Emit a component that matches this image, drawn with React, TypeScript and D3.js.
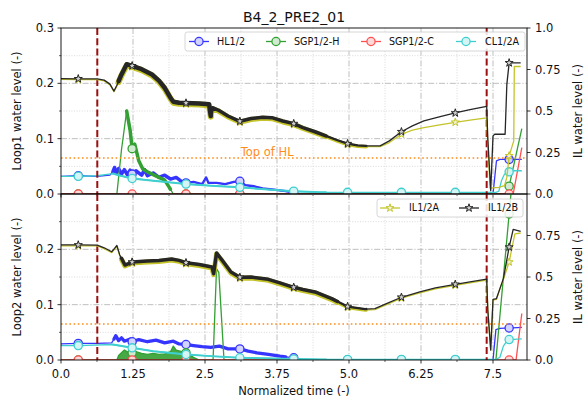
import React from "react";
import * as d3 from "d3";

type Pt = [number, number];

// ---------- axes / ticks ----------
const xTicks = [0, 1.25, 2.5, 3.75, 5.0, 6.25, 7.5];
const xTickLabels = ["0.0", "1.25", "2.5", "3.75", "5.0", "6.25", "7.5"];
const xMinor = [0.625, 1.875, 3.125, 4.375, 5.625, 6.875];
const leftTicksTop = [0, 0.1, 0.2, 0.3];
const leftLabelsTop = ["0.0", "0.1", "0.2", "0.3"];
const leftTicksBot = [0, 0.1, 0.2];
const leftLabelsBot = ["0.0", "0.1", "0.2"];
const leftMinor = [0.05, 0.15, 0.25];
const rightTicksTop = [0, 0.25, 0.5, 0.75, 1.0];
const rightLabelsTop = ["0.0", "0.25", "0.5", "0.75", "1.0"];
const rightTicksBot = [0, 0.25, 0.5, 0.75];
const rightLabelsBot = ["0.0", "0.25", "0.5", "0.75"];
const markerX = [0.3, 1.235, 2.17, 3.105, 4.04, 4.975, 5.91, 6.845, 7.78];
const eventX = [0.63, 7.39];
const topOfHL = 0.065;

// ---------- Loop1 (top) ----------
const hlTop: Pt[] = [[0,0.032],[0.3,0.033],[0.63,0.032],[0.85,0.034],[0.9,0.04],[0.93,0.048],[0.96,0.038],[1.0,0.046],[1.05,0.036],[1.1,0.044],[1.15,0.035],[1.2,0.043],[1.235,0.036],[1.3,0.042],[1.4,0.034],[1.45,0.044],[1.5,0.033],[1.6,0.038],[1.7,0.03],[1.8,0.034],[1.9,0.027],[2.0,0.03],[2.1,0.022],[2.17,0.02],[2.3,0.022],[2.45,0.018],[2.52,0.03],[2.56,0.02],[2.7,0.02],[2.85,0.018],[3.0,0.022],[3.105,0.023],[3.2,0.016],[3.35,0.014],[3.5,0.01],[3.7,0.008],[3.9,0.005],[4.04,0.003],[4.15,0],[7.5,0],[7.56,0.06],[7.62,0.0625],[8.0,0.0625]];
const sgpHTop: Pt[] = [[0,0],[0.97,0],[1.05,0.08],[1.14,0.15],[1.2,0.115],[1.235,0.082],[1.28,0.09],[1.35,0.06],[1.42,0.045],[1.5,0.04],[1.6,0.035],[1.7,0.03],[1.8,0.025],[1.88,0.012],[1.95,0],[7.75,0],[8.0,0.118]];
const sgpCTop: Pt[] = [[0,0],[7.85,0],[8.0,0.084]];
const clTop: Pt[] = [[0,0.032],[0.3,0.032],[0.63,0.033],[0.9,0.037],[1.0,0.034],[1.235,0.028],[1.6,0.024],[2.17,0.018],[2.6,0.015],[3.105,0.012],[3.6,0.008],[4.04,0.005],[4.5,0.003],[7.55,0.003],[7.6,0.005],[7.65,0.025],[7.7,0.036],[7.78,0.04],[7.82,0.042],[8.0,0.042]];
const ilATop: Pt[] = [[0,0.69],[0.3,0.689],[0.63,0.689],[0.75,0.681],[0.85,0.657],[0.92,0.616],[0.97,0.65],[1.05,0.714],[1.14,0.775],[1.235,0.766],[1.4,0.746],[1.58,0.714],[1.7,0.677],[1.8,0.634],[1.9,0.575],[1.95,0.55],[2.05,0.544],[2.17,0.542],[2.4,0.539],[2.57,0.534],[2.6,0.466],[2.63,0.514],[2.73,0.5],[2.9,0.464],[3.105,0.432],[3.3,0.449],[3.5,0.456],[3.66,0.454],[3.85,0.434],[4.04,0.418],[4.2,0.395],[4.41,0.37],[4.6,0.345],[4.8,0.319],[4.975,0.298],[5.15,0.288],[5.3,0.285],[5.54,0.285],[5.7,0.31],[5.91,0.36],[6.1,0.385],[6.3,0.4],[6.6,0.418],[6.845,0.432],[7.1,0.445],[7.39,0.458],[7.41,0.3],[7.45,0.035],[7.6,0.04],[7.7,0.05],[7.74,0.1],[7.78,0.23],[7.86,0.32],[7.87,0.768],[7.98,0.768]];
const ilBTop: Pt[] = [[0,0.695],[0.3,0.694],[0.63,0.694],[0.75,0.686],[0.85,0.662],[0.92,0.62],[0.97,0.655],[1.05,0.72],[1.14,0.782],[1.235,0.772],[1.4,0.752],[1.58,0.72],[1.7,0.683],[1.8,0.64],[1.9,0.58],[1.95,0.556],[2.05,0.55],[2.17,0.548],[2.4,0.545],[2.57,0.54],[2.6,0.47],[2.63,0.52],[2.73,0.506],[2.9,0.47],[3.105,0.438],[3.3,0.455],[3.5,0.462],[3.66,0.46],[3.85,0.44],[4.04,0.424],[4.2,0.4],[4.41,0.375],[4.6,0.35],[4.8,0.324],[4.975,0.303],[5.15,0.293],[5.3,0.29],[5.54,0.29],[5.7,0.32],[5.91,0.375],[6.1,0.41],[6.3,0.44],[6.6,0.468],[6.845,0.488],[7.1,0.508],[7.39,0.528],[7.41,0.33],[7.46,0.02],[7.5,0.35],[7.53,0.36],[7.71,0.36],[7.74,0.66],[7.78,0.79],[7.98,0.79]];

// ---------- Loop2 (bottom) ----------
const hlBot: Pt[] = [[0,0.029],[0.3,0.03],[0.63,0.03],[0.88,0.031],[0.92,0.038],[0.95,0.044],[1.0,0.035],[1.05,0.04],[1.1,0.034],[1.2,0.038],[1.235,0.033],[1.35,0.037],[1.5,0.033],[1.65,0.036],[1.8,0.031],[1.95,0.034],[2.05,0.029],[2.17,0.028],[2.3,0.026],[2.45,0.024],[2.6,0.023],[2.75,0.025],[2.9,0.02],[3.105,0.02],[3.25,0.016],[3.4,0.013],[3.6,0.01],[3.8,0.007],[4.04,0.004],[4.2,0],[7.5,0],[7.55,0.055],[7.62,0.057],[8.0,0.059]];
const sgpHBot: Pt[] = [[0,0],[0.97,0],[1.0,0.008],[1.1,0.018],[1.2,0.012],[1.3,0.015],[1.4,0.012],[1.5,0.01],[1.6,0.012],[1.7,0.01],[1.8,0.011],[1.9,0.015],[1.95,0.025],[2.0,0.018],[2.1,0.015],[2.2,0.012],[2.3,0.005],[2.4,0],[2.64,0],[2.7,0.165],[2.74,0.158],[2.83,0],[7.55,0],[7.82,0.31]];
const sgpCBot: Pt[] = [[0,0],[7.9,0],[8.0,0.084]];
const clBot: Pt[] = [[0,0.026],[0.3,0.026],[0.9,0.028],[1.235,0.022],[1.6,0.016],[2.17,0.01],[2.6,0.007],[3.105,0.004],[4.04,0.002],[4.5,0.001],[7.55,0.001],[7.62,0.005],[7.68,0.025],[7.74,0.034],[7.78,0.037],[8.0,0.038]];
const ilABot: Pt[] = [[0,0.688],[0.3,0.688],[0.63,0.687],[0.75,0.671],[0.88,0.647],[0.93,0.667],[0.97,0.684],[1.02,0.627],[1.11,0.566],[1.235,0.584],[1.5,0.59],[1.7,0.594],[1.92,0.602],[2.05,0.594],[2.17,0.58],[2.4,0.569],[2.62,0.554],[2.65,0.514],[2.7,0.638],[2.8,0.594],[2.95,0.524],[3.105,0.492],[3.3,0.494],[3.6,0.48],[3.8,0.459],[4.04,0.432],[4.2,0.419],[4.41,0.404],[4.7,0.364],[4.975,0.316],[5.28,0.301],[5.45,0.304],[5.65,0.334],[5.91,0.372],[6.23,0.404],[6.5,0.429],[6.845,0.45],[7.1,0.464],[7.39,0.481],[7.41,0.3],[7.46,0.06],[7.5,0.36],[7.56,0.365],[7.62,0.43],[7.68,0.485],[7.78,0.59],[7.82,0.66],[7.88,0.76],[7.98,0.765]];
const ilBBot: Pt[] = [[0,0.693],[0.3,0.693],[0.63,0.692],[0.75,0.676],[0.88,0.652],[0.93,0.672],[0.97,0.69],[1.02,0.633],[1.11,0.572],[1.235,0.59],[1.5,0.596],[1.7,0.6],[1.92,0.608],[2.05,0.6],[2.17,0.586],[2.4,0.575],[2.62,0.56],[2.65,0.52],[2.7,0.645],[2.8,0.6],[2.95,0.53],[3.105,0.498],[3.3,0.5],[3.6,0.486],[3.8,0.465],[4.04,0.438],[4.2,0.425],[4.41,0.41],[4.7,0.37],[4.975,0.322],[5.28,0.307],[5.45,0.31],[5.65,0.34],[5.91,0.378],[6.23,0.41],[6.5,0.435],[6.845,0.456],[7.1,0.47],[7.39,0.487],[7.41,0.3],[7.46,0.06],[7.5,0.365],[7.56,0.37],[7.62,0.43],[7.68,0.49],[7.78,0.68],[7.85,0.787],[7.98,0.775]];

// ---------- styles ----------
const C_BLUE = "#3535ff";
const C_GREEN = "#32a032";
const C_RED = "#ff4f4f";
const C_CYAN = "#3fcfcf";
const C_YEL = "#c4c42a";
const C_BLACK = "#262626";
const C_EVENT = "#9b1111";
const C_ORANGE = "#ff8c1a";

const X0 = 61, X1 = 527;
const FONT = "DejaVu Sans, sans-serif";
const FS = 11.5;

function interp(data: Pt[], x: number): number {
  if (x <= data[0][0]) return data[0][1];
  for (let i = 1; i < data.length; i++) {
    if (x <= data[i][0]) {
      const [xa, ya] = data[i - 1];
      const [xb, yb] = data[i];
      if (xb === xa) return yb;
      return ya + ((yb - ya) * (x - xa)) / (xb - xa);
    }
  }
  return data[data.length - 1][1];
}
function slice(data: Pt[], a: number, b: number): Pt[] {
  const out: Pt[] = [[a, interp(data, a)]];
  data.forEach((p) => {
    if (p[0] > a && p[0] < b) out.push(p);
  });
  out.push([b, interp(data, b)]);
  return out;
}
const tint = (c: string) => d3.interpolateRgb("white", c)(0.22);

type Band = { a: number; b: number; w: number };
type Series = {
  name: string;
  color: string;
  data: Pt[];
  marker: "circle" | "star";
  bands?: Band[];
  fill?: { a: number; b: number };
};

const x = d3.scaleLinear().domain([0, 8.09]).range([X0, X1]);
const starPath = d3.symbol().type(d3.symbolStar).size(20)() as string;

function Marker({ kind, color, cx, cy }: { kind: string; color: string; cx: number; cy: number }) {
  if (kind === "circle")
    return <circle cx={cx} cy={cy} r={4.1} fill={tint(color)} stroke={color} strokeWidth={1.3} />;
  return <path d={starPath} transform={`translate(${cx},${cy})`} fill={tint(color)} stroke={color} strokeWidth={1} />;
}

function SeriesView({ s, ys }: { s: Series; ys: d3.ScaleLinear<number, number> }) {
  const line = d3.line<Pt>().x((d) => x(d[0])).y((d) => ys(d[1]));
  const area = d3.area<Pt>().x((d) => x(d[0])).y0(ys(0)).y1((d) => ys(d[1]));
  return (
    <g>
      {s.fill && <path d={area(slice(s.data, s.fill.a, s.fill.b)) as string} fill={s.color} opacity={0.9} />}
      <path d={line(s.data) as string} fill="none" stroke={s.color} strokeWidth={1.3} strokeLinejoin="round" />
      {(s.bands || []).map((b, i) => (
        <path key={i} d={line(slice(s.data, b.a, b.b)) as string} fill="none" stroke={s.color} strokeWidth={b.w} strokeLinejoin="round" strokeLinecap="round" />
      ))}
      {markerX.map((mx, i) => (
        <Marker key={i} kind={s.marker} color={s.color} cx={x(mx)} cy={ys(interp(s.data, mx))} />
      ))}
    </g>
  );
}

type PanelProps = {
  id: string;
  top: number;
  bottom: number;
  loop: Series[];
  il: Series[];
  leftTicks: number[];
  leftLabels: string[];
  rightTicks: number[];
  rightLabels: string[];
  ylabel: string;
  showX: boolean;
  showTopText: boolean;
};

function Panel(p: PanelProps) {
  const yL = d3.scaleLinear().domain([0, 0.3]).range([p.bottom, p.top]);
  const yR = d3.scaleLinear().domain([0, 1]).range([p.bottom, p.top]);
  const clip = `clip-${p.id}`;
  const midY = (p.top + p.bottom) / 2;
  return (
    <g>
      <defs>
        <clipPath id={clip}>
          <rect x={X0} y={p.top} width={X1 - X0} height={p.bottom - p.top} />
        </clipPath>
      </defs>
      <g clipPath={`url(#${clip})`}>
        {xMinor.map((v, i) => (
          <line key={"xm" + i} x1={x(v)} x2={x(v)} y1={p.top} y2={p.bottom} stroke="#d0d0d0" strokeWidth={0.8} strokeDasharray="1,1.6" />
        ))}
        {leftMinor.map((v, i) => (
          <line key={"ym" + i} x1={X0} x2={X1} y1={yL(v)} y2={yL(v)} stroke="#d0d0d0" strokeWidth={0.8} strokeDasharray="1,1.6" />
        ))}
        {xTicks.slice(1).map((v, i) => (
          <line key={"xg" + i} x1={x(v)} x2={x(v)} y1={p.top} y2={p.bottom} stroke="#b8b8b8" strokeWidth={0.9} strokeDasharray="6,1.8,1.2,1.8" />
        ))}
        {[0.1, 0.2].map((v, i) => (
          <line key={"yg" + i} x1={X0} x2={X1} y1={yL(v)} y2={yL(v)} stroke="#b8b8b8" strokeWidth={0.9} strokeDasharray="6,1.8,1.2,1.8" />
        ))}
        {p.loop.map((s) => (
          <SeriesView key={s.name} s={s} ys={yL} />
        ))}
        <line x1={X0} x2={X1} y1={yL(topOfHL)} y2={yL(topOfHL)} stroke={C_ORANGE} strokeWidth={1.6} strokeDasharray="1.6,2.6" />
        {eventX.map((v, i) => (
          <line key={"ev" + i} x1={x(v)} x2={x(v)} y1={p.top} y2={p.bottom} stroke={C_EVENT} strokeWidth={2} strokeDasharray="7,3.2" />
        ))}
        {p.il.map((s) => (
          <SeriesView key={s.name} s={s} ys={yR} />
        ))}
      </g>
      {p.showTopText && (
        <text x={x(3.12)} y={yL(topOfHL) - 2.5} fontSize={FS} fill={C_ORANGE} fontFamily={FONT}>
          Top of HL
        </text>
      )}
      <rect x={X0} y={p.top} width={X1 - X0} height={p.bottom - p.top} fill="none" stroke="#000" strokeWidth={0.9} />
      {p.leftTicks.map((v, i) => (
        <g key={"lt" + i}>
          <line x1={X0 - 3.5} x2={X0} y1={yL(v)} y2={yL(v)} stroke="#000" strokeWidth={0.8} />
          <text x={X0 - 7} y={yL(v)} dy="0.36em" textAnchor="end" fontSize={FS} fontFamily={FONT} fill="#111">
            {p.leftLabels[i]}
          </text>
        </g>
      ))}
      {leftMinor.map((v, i) => (
        <line key={"lm" + i} x1={X0 - 2} x2={X0} y1={yL(v)} y2={yL(v)} stroke="#000" strokeWidth={0.6} />
      ))}
      {p.rightTicks.map((v, i) => (
        <g key={"rt" + i}>
          <line x1={X1} x2={X1 + 3.5} y1={yR(v)} y2={yR(v)} stroke="#000" strokeWidth={0.8} />
          <text x={X1 + 8} y={yR(v)} dy="0.36em" textAnchor="start" fontSize={FS} fontFamily={FONT} fill="#111">
            {p.rightLabels[i]}
          </text>
        </g>
      ))}
      {xTicks.map((v, i) => (
        <line key={"xt" + i} x1={x(v)} x2={x(v)} y1={p.bottom} y2={p.bottom + 3.5} stroke="#000" strokeWidth={0.8} />
      ))}
      {xMinor.map((v, i) => (
        <line key={"xmt" + i} x1={x(v)} x2={x(v)} y1={p.bottom} y2={p.bottom + 2} stroke="#000" strokeWidth={0.6} />
      ))}
      {p.showX &&
        xTicks.map((v, i) => (
          <text key={"xl" + i} x={x(v)} y={p.bottom + 18} textAnchor="middle" fontSize={FS} fontFamily={FONT} fill="#111">
            {xTickLabels[i]}
          </text>
        ))}
      <text transform={`translate(17,${midY}) rotate(-90)`} textAnchor="middle" dy="0.35em" fontSize={FS} fontFamily={FONT} fill="#111">
        {p.ylabel}
      </text>
      <text transform={`translate(578,${midY}) rotate(-90)`} textAnchor="middle" dy="0.35em" fontSize={FS} fontFamily={FONT} fill="#111">
        IL water level (-)
      </text>
    </g>
  );
}

function Legend({ x0, y0, w, h, items }: { x0: number; y0: number; w: number; h: number; items: { s: Series; lx: number; tx: number }[] }) {
  const cy = y0 + h / 2;
  return (
    <g>
      <rect x={x0} y={y0} width={w} height={h} rx={2.5} fill="white" fillOpacity={0.85} stroke="#cccccc" strokeWidth={0.8} />
      {items.map((it, i) => (
        <g key={i}>
          <line x1={it.lx} x2={it.lx + 20} y1={cy} y2={cy} stroke={it.s.color} strokeWidth={1.3} />
          <Marker kind={it.s.marker} color={it.s.color} cx={it.lx + 10} cy={cy} />
          <text x={it.tx} y={cy} dy="0.36em" fontSize={9.6} fontFamily={FONT} fill="#111">
            {it.s.name}
          </text>
        </g>
      ))}
    </g>
  );
}

export default function App() {
  const topLoop: Series[] = [
    { name: "HL1/2", color: C_BLUE, data: hlTop, marker: "circle", bands: [{ a: 0.9, b: 2.2, w: 3.5 }, { a: 2.2, b: 4.1, w: 2.3 }] },
    { name: "SGP1/2-H", color: C_GREEN, data: sgpHTop, marker: "circle", bands: [{ a: 1.14, b: 1.9, w: 3.5 }] },
    { name: "SGP1/2-C", color: C_RED, data: sgpCTop, marker: "circle" },
    { name: "CL1/2A", color: C_CYAN, data: clTop, marker: "circle", bands: [{ a: 0.9, b: 4.6, w: 2 }] },
  ];
  const topIL: Series[] = [
    { name: "IL1/2A", color: C_YEL, data: ilATop, marker: "star", bands: [{ a: 1.0, b: 2.6, w: 6 }, { a: 2.6, b: 4.6, w: 5 }, { a: 4.6, b: 5.3, w: 3.5 }] },
    { name: "IL1/2B", color: C_BLACK, data: ilBTop, marker: "star", bands: [{ a: 1.0, b: 2.6, w: 4.5 }, { a: 2.6, b: 4.6, w: 3.5 }, { a: 4.6, b: 5.3, w: 2.3 }] },
  ];
  const botLoop: Series[] = [
    { name: "HL1/2", color: C_BLUE, data: hlBot, marker: "circle", bands: [{ a: 0.92, b: 3.9, w: 3.3 }] },
    { name: "SGP1/2-H", color: C_GREEN, data: sgpHBot, marker: "circle", fill: { a: 0.97, b: 2.4 } },
    { name: "SGP1/2-C", color: C_RED, data: sgpCBot, marker: "circle" },
    { name: "CL1/2A", color: C_CYAN, data: clBot, marker: "circle", bands: [{ a: 0.9, b: 4.6, w: 2 }] },
  ];
  const botIL: Series[] = [
    { name: "IL1/2A", color: C_YEL, data: ilABot, marker: "star", bands: [{ a: 1.05, b: 4.8, w: 5 }, { a: 4.8, b: 5.3, w: 3.5 }] },
    { name: "IL1/2B", color: C_BLACK, data: ilBBot, marker: "star", bands: [{ a: 1.05, b: 4.8, w: 3.5 }, { a: 4.8, b: 5.3, w: 2.3 }] },
  ];

  return (
    <svg width={585} height={401} style={{ position: "absolute", left: 0, top: 0, display: "block" }} fontFamily={FONT}>
      <rect x={0} y={0} width={585} height={401} fill="white" />
      <text x={(X0 + X1) / 2} y={22} textAnchor="middle" fontSize={14} fontFamily={FONT} fill="#111">
        B4_2_PRE2_01
      </text>
      <Panel id="top" top={28} bottom={194} loop={topLoop} il={topIL} leftTicks={leftTicksTop} leftLabels={leftLabelsTop}
        rightTicks={rightTicksTop} rightLabels={rightLabelsTop} ylabel="Loop1 water level (-)" showX={false} showTopText={true} />
      <Panel id="bot" top={194} bottom={360} loop={botLoop} il={botIL} leftTicks={leftTicksBot} leftLabels={leftLabelsBot}
        rightTicks={rightTicksBot} rightLabels={rightLabelsBot} ylabel="Loop2 water level (-)" showX={true} showTopText={false} />
      <Legend x0={185} y0={32} w={340} h={19} items={[
        { s: topLoop[0], lx: 189, tx: 217 },
        { s: topLoop[1], lx: 266, tx: 294 },
        { s: topLoop[2], lx: 361, tx: 389 },
        { s: topLoop[3], lx: 456, tx: 485 },
      ]} />
      <Legend x0={377} y0={199} w={146} h={18} items={[
        { s: botIL[0], lx: 380, tx: 409 },
        { s: botIL[1], lx: 459, tx: 488 },
      ]} />
      <text x={(X0 + X1) / 2} y={395} textAnchor="middle" fontSize={FS} fontFamily={FONT} fill="#111">
        Normalized time (-)
      </text>
    </svg>
  );
}
